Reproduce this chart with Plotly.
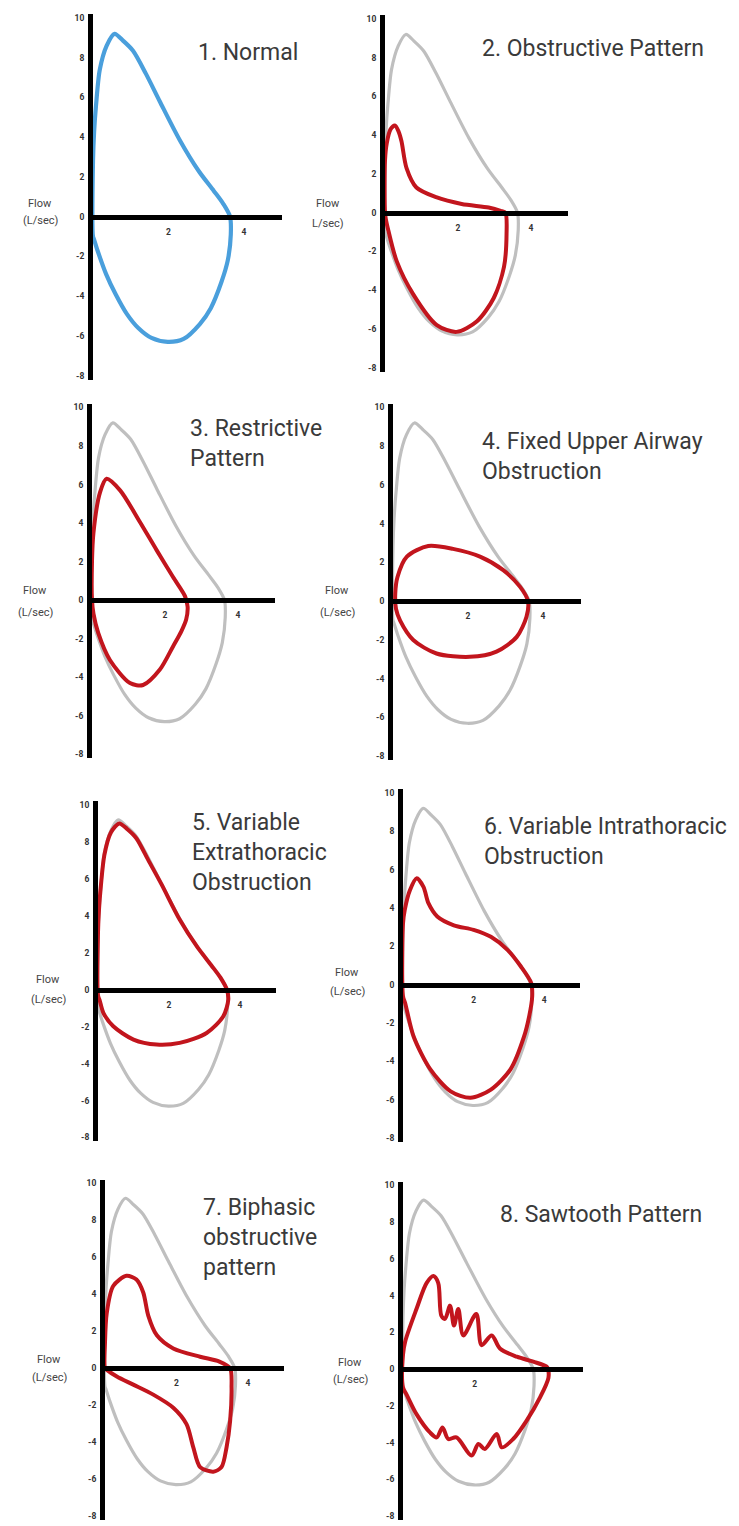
import plotly.graph_objects as go

W, H = 739, 1526

# ---------------- data ----------------
yticks = [10, 8, 6, 4, 2, 0, -2, -4, -6, -8]
ytick_text = ["10", "8", "6", "4", "2", "0", "-2", "-4", "-6", "-8"]
xticks = [2, 4]
xtick_text = ["2", "4"]

# Normal flow-volume loop (volume L, flow L/sec)
norm_x = [0.00, 0.03, 0.08, 0.18, 0.36, 0.57, 0.80, 1.06, 1.40, 1.77, 2.30, 2.80, 3.20, 3.45, 3.63,
          3.65, 3.57, 3.40, 3.12, 2.83, 2.40, 1.98, 1.55, 1.20, 0.90, 0.60, 0.35, 0.12, 0.02, 0.00, 0.00]
norm_y = [2.8, 4.3, 5.6, 7.4, 8.6, 9.2, 8.85, 8.35, 7.2, 5.8, 3.85, 2.3, 1.3, 0.65, 0.0,
          -0.9, -2.2, -3.3, -4.6, -5.4, -6.15, -6.3, -6.1, -5.6, -4.9, -3.9, -2.9, -1.7, -1.1, -1.0, 2.8]

# 2. Obstructive
obs_x = [0.00, 0.05, 0.15, 0.27, 0.37, 0.45, 0.59, 0.86, 1.40, 2.10, 2.84, 3.17, 3.30,
         3.33, 3.26, 2.98, 2.52, 1.96, 1.42, 0.77, 0.32, 0.09, 0.02, 0.00, 0.00]
obs_y = [2.7, 3.6, 4.3, 4.5, 4.2, 3.7, 2.3, 1.3, 0.8, 0.45, 0.27, 0.1, 0.0,
         -1.1, -2.8, -4.4, -5.6, -6.15, -5.8, -4.2, -2.5, -0.9, -0.3, 0.0, 2.7]

# 3. Restrictive
res_x = [0.00, 0.04, 0.22, 0.40, 0.77, 1.30, 1.77, 2.22, 2.55, 2.62, 2.58, 2.45, 2.22, 1.86,
         1.40, 1.04, 0.49, 0.17, 0.04, 0.00, 0.00]
res_y = [2.0, 3.5, 5.6, 6.3, 5.7, 4.1, 2.6, 1.2, 0.2, -0.35, -1.0, -1.6, -2.4, -3.6,
         -4.4, -4.3, -3.1, -1.7, -0.7, 0.0, 2.0]

# 4. Fixed upper airway obstruction
fix_x = [0.06, 0.12, 0.37, 0.94, 1.60, 2.32, 2.94, 3.39, 3.60, 3.56, 3.30, 2.76, 2.05, 1.16,
         0.54, 0.19, 0.08, 0.06]
fix_y = [0.4, 1.25, 2.3, 2.85, 2.7, 2.3, 1.6, 0.74, 0.0, -0.8, -1.84, -2.6, -2.87, -2.7,
         -2.0, -1.0, -0.4, 0.4]

# 5. Variable extrathoracic obstruction
ext_x = [0.00, 0.03, 0.08, 0.18, 0.36, 0.60, 0.82, 1.08, 1.42, 1.79, 2.30, 2.80, 3.20, 3.45, 3.63,
         3.67, 3.53, 3.06, 2.30, 1.65, 1.00, 0.43, 0.15, 0.05, 0.00, 0.00]
ext_y = [3.1, 4.4, 5.6, 7.3, 8.5, 9.0, 8.7, 8.2, 7.0, 5.7, 3.8, 2.3, 1.3, 0.65, 0.0,
         -0.54, -1.44, -2.34, -2.88, -2.97, -2.7, -1.98, -1.25, -0.6, -0.3, 3.1]

# 6. Variable intrathoracic obstruction
int_x = [0.00, 0.05, 0.19, 0.39, 0.58, 0.72, 0.97, 1.44, 2.00, 2.49, 2.96, 3.34, 3.63,
         3.66, 3.58, 3.43, 3.05, 2.49, 1.91, 1.35, 0.77, 0.30, 0.06, 0.00, 0.00]
int_y = [3.2, 3.9, 4.9, 5.55, 5.1, 4.25, 3.56, 3.1, 2.86, 2.5, 1.82, 0.95, 0.1,
         -0.6, -1.6, -2.7, -4.4, -5.47, -5.9, -5.56, -4.4, -2.7, -0.95, -0.6, 3.2]

# 7. Biphasic obstructive pattern
bi_x = [0.00, 0.05, 0.23, 0.60, 0.88, 1.07, 1.21, 1.45, 1.91, 2.66, 3.20, 3.50,
        3.54, 3.50, 3.40, 3.26, 3.03, 2.66, 2.47, 2.28, 1.91, 1.35, 0.79, 0.33, 0.05, 0.00, 0.00]
bi_y = [1.4, 3.0, 4.45, 5.0, 4.8, 4.1, 2.85, 1.78, 1.07, 0.62, 0.36, 0.0,
        -1.07, -2.85, -4.28, -5.35, -5.6, -5.35, -4.28, -3.03, -2.14, -1.43, -0.89, -0.45, -0.09, 0.0, 1.4]

# 8. Sawtooth pattern
saw_x = [0.00, 0.06, 0.38, 0.66, 0.85, 0.98, 1.07, 1.17, 1.31, 1.42, 1.54, 1.68, 2.04, 2.19, 2.47,
         2.70, 3.17, 3.63, 4.00, 4.04,
         4.05, 3.81, 3.44, 3.07, 2.75, 2.61, 2.28, 2.10, 1.91, 1.49, 1.26, 1.10, 0.94, 0.75, 0.38,
         0.10, 0.00, 0.00]
saw_y = [0.8, 1.5, 3.3, 4.7, 5.07, 4.7, 2.9, 2.74, 3.46, 2.38, 3.28, 1.84, 3.0, 1.31, 1.84,
         1.13, 0.68, 0.41, 0.14, 0.0,
         -0.48, -1.56, -2.81, -3.8, -4.25, -3.53, -4.34, -4.07, -4.7, -3.71, -3.8, -3.17, -3.71, -3.44, -2.46,
         -1.38, -1.0, 0.8]

titles = [
    "1. Normal",
    "2. Obstructive Pattern",
    "3. Restrictive<br>Pattern",
    "4. Fixed Upper Airway<br>Obstruction",
    "5. Variable<br>Extrathoracic<br>Obstruction",
    "6. Variable Intrathoracic<br>Obstruction",
    "7. Biphasic<br>obstructive<br>pattern",
    "8. Sawtooth Pattern",
]
flow_line1 = ["Flow"] * 8
flow_line2 = ["(L/sec)", "L/sec)", "(L/sec)", "(L/sec)", "(L/sec)", "(L/sec)", "(L/sec)", "(L/sec)"]

red_curves = [None, (obs_x, obs_y), (res_x, res_y), (fix_x, fix_y),
              (ext_x, ext_y), (int_x, int_y), (bi_x, bi_y), (saw_x, saw_y)]

# ---------------- layout (pixel placement of each panel) ----------------
# (x of y-axis, px per litre, y of zero line, px per L/sec)
panels = [
    (93, 37.75, 216, 19.9),
    (385, 36.5, 212, 19.4),
    (92, 36.5, 600, 19.3),
    (393, 37.5, 601, 19.4),
    (98, 35.5, 990, 18.5),
    (403, 35.3, 985, 19.2),
    (105, 35.75, 1369, 18.5),
    (403, 35.9, 1370, 18.4),
]
title_pos = [(196, 52), (480, 48), (188, 443.5), (480, 456), (190, 853), (482, 841.5),
             (201, 1238.5), (498, 1215)]
flow_pos = [(40, 203, 220), (328, 203, 223), (35, 590, 612), (337, 590, 612),
            (48, 980, 1000), (347, 973, 992), (49, 1360, 1378), (350, 1363, 1380)]

BLUE = "#4a9fdc"
GRAY = "#bfbfbf"
RED = "#c2151d"
YMIN, YMAX = -8.2, 10.2

fig = go.Figure()
layout = dict(width=W, height=H, margin=dict(l=0, r=0, t=0, b=0),
              paper_bgcolor="white", plot_bgcolor="rgba(0,0,0,0)", showlegend=False)
annotations = []

for i, (x0, sx, y0, sy) in enumerate(panels):
    n = i + 1
    xa = "x" if n == 1 else f"x{n}"
    ya = "y" if n == 1 else f"y{n}"
    xkey = "xaxis" if n == 1 else f"xaxis{n}"
    ykey = "yaxis" if n == 1 else f"yaxis{n}"

    if n == 1:
        fig.add_trace(go.Scatter(x=norm_x, y=norm_y, mode="lines", xaxis=xa, yaxis=ya,
                                 line=dict(color=BLUE, width=4.2, shape="spline", smoothing=0.8),
                                 hoverinfo="skip"))
    else:
        fig.add_trace(go.Scatter(x=norm_x, y=norm_y, mode="lines", xaxis=xa, yaxis=ya,
                                 line=dict(color=GRAY, width=3.2, shape="spline", smoothing=0.8),
                                 hoverinfo="skip"))
        rx, ry = red_curves[i]
        sm = 0.9 if n == 8 else 0.8
        fig.add_trace(go.Scatter(x=rx, y=ry, mode="lines", xaxis=xa, yaxis=ya,
                                 line=dict(color=RED, width=4, shape="spline", smoothing=sm),
                                 hoverinfo="skip"))

    xt = xticks if n != 8 else xticks[:1]
    xtt = xtick_text if n != 8 else xtick_text[:1]
    layout[xkey] = dict(
        domain=[x0 / W, (x0 + 5 * sx) / W], range=[0, 5], anchor="free",
        position=1 - y0 / H, showline=True, linecolor="black", linewidth=5,
        showgrid=False, zeroline=False, tickmode="array", tickvals=xt, ticktext=xtt,
        ticks="outside", ticklen=5, tickcolor="rgba(0,0,0,0)",
        tickfont=dict(family="Roboto", size=8.5, color="#333", weight="bold"), fixedrange=True)
    layout[ykey] = dict(
        domain=[1 - (y0 - YMIN * sy) / H, 1 - (y0 - YMAX * sy) / H], range=[YMIN, YMAX],
        anchor=xa, showline=True, linecolor="black", linewidth=5, showgrid=False,
        zeroline=False, tickmode="array", tickvals=yticks, ticktext=ytick_text,
        ticks="outside", ticklen=2, tickcolor="rgba(0,0,0,0)",
        tickfont=dict(family="Roboto", size=8.5, color="#333", weight="bold"), fixedrange=True)

    tx, ty = title_pos[i]
    annotations.append(dict(text=titles[i], x=tx / W, y=1 - ty / H, xref="paper", yref="paper",
                            xanchor="left", yanchor="middle", align="left", showarrow=False,
                            font=dict(family="Roboto", size=23, color="#3a3a3a")))
    fx, fy1, fy2 = flow_pos[i]
    annotations.append(dict(text=flow_line1[i], x=fx / W, y=1 - fy1 / H, xref="paper", yref="paper",
                            xanchor="center", yanchor="middle", showarrow=False,
                            font=dict(family="Roboto", size=11, color="#444")))
    annotations.append(dict(text=flow_line2[i], x=fx / W, y=1 - fy2 / H, xref="paper", yref="paper",
                            xanchor="center", yanchor="middle", showarrow=False,
                            font=dict(family="Roboto", size=11, color="#444")))

layout["annotations"] = annotations
fig.update_layout(**layout)
fig.write_html("out.html", config={"displayModeBar": False},
               post_script="document.body.style.margin='0';document.body.style.padding='0';")
